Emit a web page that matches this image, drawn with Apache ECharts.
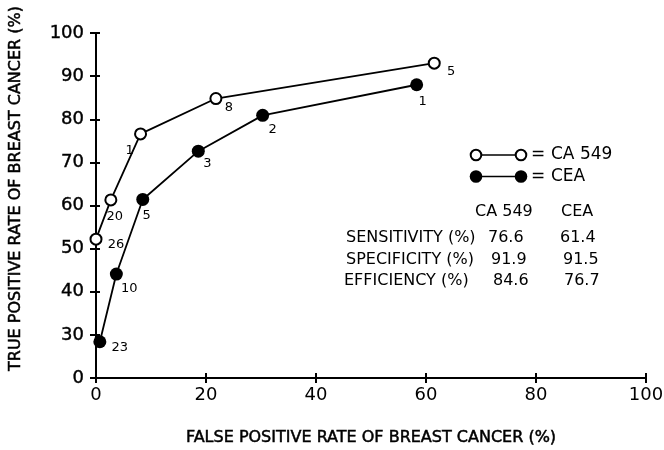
<!DOCTYPE html>
<html>
<head>
<meta charset="utf-8">
<script src="https://cdn.jsdelivr.net/npm/echarts@6/dist/echarts.min.js"></script>
<style>
  html, body { margin: 0; padding: 0; background: #fff; }
  #chart { width: 664px; height: 450px; }
</style>
</head>
<body>
<div id="chart"></div>
<script>
// ROC points: [false positive rate %, true positive rate %]
const ca549Points = [[0, 52.2], [2.7, 61.3], [8.1, 76.6], [21.8, 84.8], [61.5, 93.0]];
const ca549Cutoffs = ['26', '20', '1', '8', '5'];
const ceaPoints = [[0.7, 28.4], [3.7, 44.1], [8.5, 61.4], [18.6, 72.6], [30.3, 80.9], [58.3, 88.0]];
const ceaCutoffs = ['23', '10', '5', '3', '2', '1'];

// Summary table
const statColumns = ['CA 549', 'CEA'];
const statRows = ['SENSITIVITY (%)', 'SPECIFICITY (%)', 'EFFICIENCY (%)'];
const ca549Stats = ['76.6', '91.9', '84.6'];
const ceaStats = ['61.4', '91.5', '76.7'];

// y-axis is broken below 30: the bottom tick stands for 0
const yTickLabels = { 20: '0', 30: '30', 40: '40', 50: '50', 60: '60', 70: '70', 80: '80', 90: '90', 100: '100' };
const xTickLabels = ['0', '20', '40', '60', '80', '100'];

// cutoff label nudges (px) relative to each marker
const ca549LabelNudge = [[20, 5], [4, 17], [-11, 17], [13, 9], [17, 8]];
const ceaLabelNudge = [[20, 6], [13, 15], [4, 16], [9, 12], [10, 14], [6, 17]];

const FONT = '"DejaVu Sans", sans-serif';

function withLabels(points, cutoffs, nudges) {
  return points.map((p, i) => ({
    value: p,
    label: { show: true, formatter: cutoffs[i], position: 'inside', offset: nudges[i] }
  }));
}

const chart = echarts.init(document.getElementById('chart'), null, { renderer: 'canvas' });

const labelStyle = { color: '#000', fontFamily: FONT, fontSize: 13, align: 'center', verticalAlign: 'middle' };

function txt(text, x, y, size) {
  return {
    type: 'text', x: x, y: y,
    style: { text: text, fill: '#000', font: size + 'px ' + FONT, textVerticalAlign: 'middle', verticalAlign: 'middle' }
  };
}

// legend and stats table drawn as plain shapes/text
const graphics = [];
const legendY = [155, 176.5];
[[false, 'CA 549'], [true, 'CEA']].forEach(([filled, name], i) => {
  const y = legendY[i];
  const r = filled ? 6.3 : 5.3;
  graphics.push({ type: 'line', shape: { x1: 476, y1: y, x2: 521, y2: y }, style: { stroke: '#000', lineWidth: 1.3 } });
  [476, 521].forEach(cx => graphics.push({
    type: 'circle', shape: { cx: cx, cy: y, r: r },
    style: { fill: filled ? '#000' : '#fff', stroke: '#000', lineWidth: filled ? 0 : 2 }
  }));
  graphics.push(txt('=', 531, y, 17));
  graphics.push(txt(name, 551, y, 17));
});

const colX = [475, 561];
statColumns.forEach((c, i) => graphics.push(txt(c, colX[i], 211.5, 16)));
const rowY = [237.5, 259.7, 281.2];
const rowLabelX = [346, 346, 344];
const caX = [488, 491, 493];
const ceaX = [560, 563, 564];
statRows.forEach((r, i) => {
  graphics.push(txt(r, rowLabelX[i], rowY[i], 16));
  graphics.push(txt(ca549Stats[i], caX[i], rowY[i], 16));
  graphics.push(txt(ceaStats[i], ceaX[i], rowY[i], 16));
});

const yAxisBase = {
  type: 'value', min: 20, max: 100, interval: 10, position: 'left',
  splitLine: { show: false },
  axisLine: { show: true, onZero: false, lineStyle: { color: '#000', width: 2 } }
};
const xAxisBase = {
  type: 'value', min: 0, max: 100, interval: 20, position: 'bottom',
  splitLine: { show: false },
  axisLine: { show: true, onZero: false, lineStyle: { color: '#000', width: 2 } }
};

const titleStyle = {
  color: '#000', fontFamily: FONT, fontSize: 16,
  textBorderColor: '#000', textBorderWidth: 0.5
};

chart.setOption({
  backgroundColor: '#fff',
  animation: false,
  grid: { left: 96, right: 18, top: 33, bottom: 72, containLabel: false, outerBoundsMode: 'none' },
  xAxis: [
    Object.assign({}, xAxisBase, {
      name: 'FALSE POSITIVE RATE OF BREAST CANCER (%)',
      nameLocation: 'middle', nameGap: 52,
      nameTextStyle: titleStyle,
      axisTick: { show: true, inside: false, length: 5, lineStyle: { color: '#000', width: 2 } },
      axisLabel: { color: '#000', fontFamily: FONT, fontSize: 18, margin: 8, formatter: v => xTickLabels[v / 20] }
    }),
    Object.assign({}, xAxisBase, {
      axisTick: { show: true, inside: true, length: 5, lineStyle: { color: '#000', width: 2 } },
      axisLabel: { show: false }
    })
  ],
  yAxis: [
    Object.assign({}, yAxisBase, {
      name: 'TRUE POSITIVE RATE OF BREAST CANCER (%)',
      nameLocation: 'middle', nameGap: 72, nameRotate: 90,
      nameTextStyle: Object.assign({ padding: [0, 0, 0, 34] }, titleStyle),
      axisTick: { show: true, inside: false, length: 6, lineStyle: { color: '#000', width: 2 } },
      axisLabel: {
        color: '#000', fontFamily: FONT, fontSize: 18, margin: 12,
        textBorderColor: '#000', textBorderWidth: 0.4,
        formatter: v => yTickLabels[v]
      }
    }),
    Object.assign({}, yAxisBase, {
      axisTick: { show: true, inside: true, length: 4, lineStyle: { color: '#000', width: 2 } },
      axisLabel: { show: false }
    })
  ],
  series: [
    {
      name: 'CA 549', type: 'line', xAxisIndex: 0, yAxisIndex: 0,
      data: withLabels(ca549Points, ca549Cutoffs, ca549LabelNudge),
      symbol: 'circle', symbolSize: 11, showAllSymbol: true,
      lineStyle: { color: '#000', width: 1.8 },
      itemStyle: { color: '#fff', borderColor: '#000', borderWidth: 2 },
      label: labelStyle, z: 3
    },
    {
      name: 'CEA', type: 'line', xAxisIndex: 0, yAxisIndex: 0,
      data: withLabels(ceaPoints, ceaCutoffs, ceaLabelNudge),
      symbol: 'circle', symbolSize: 13, showAllSymbol: true,
      lineStyle: { color: '#000', width: 1.8 },
      itemStyle: { color: '#000', borderColor: '#000', borderWidth: 0 },
      label: labelStyle, z: 3
    }
  ],
  graphic: graphics
});
</script>
</body>
</html>
